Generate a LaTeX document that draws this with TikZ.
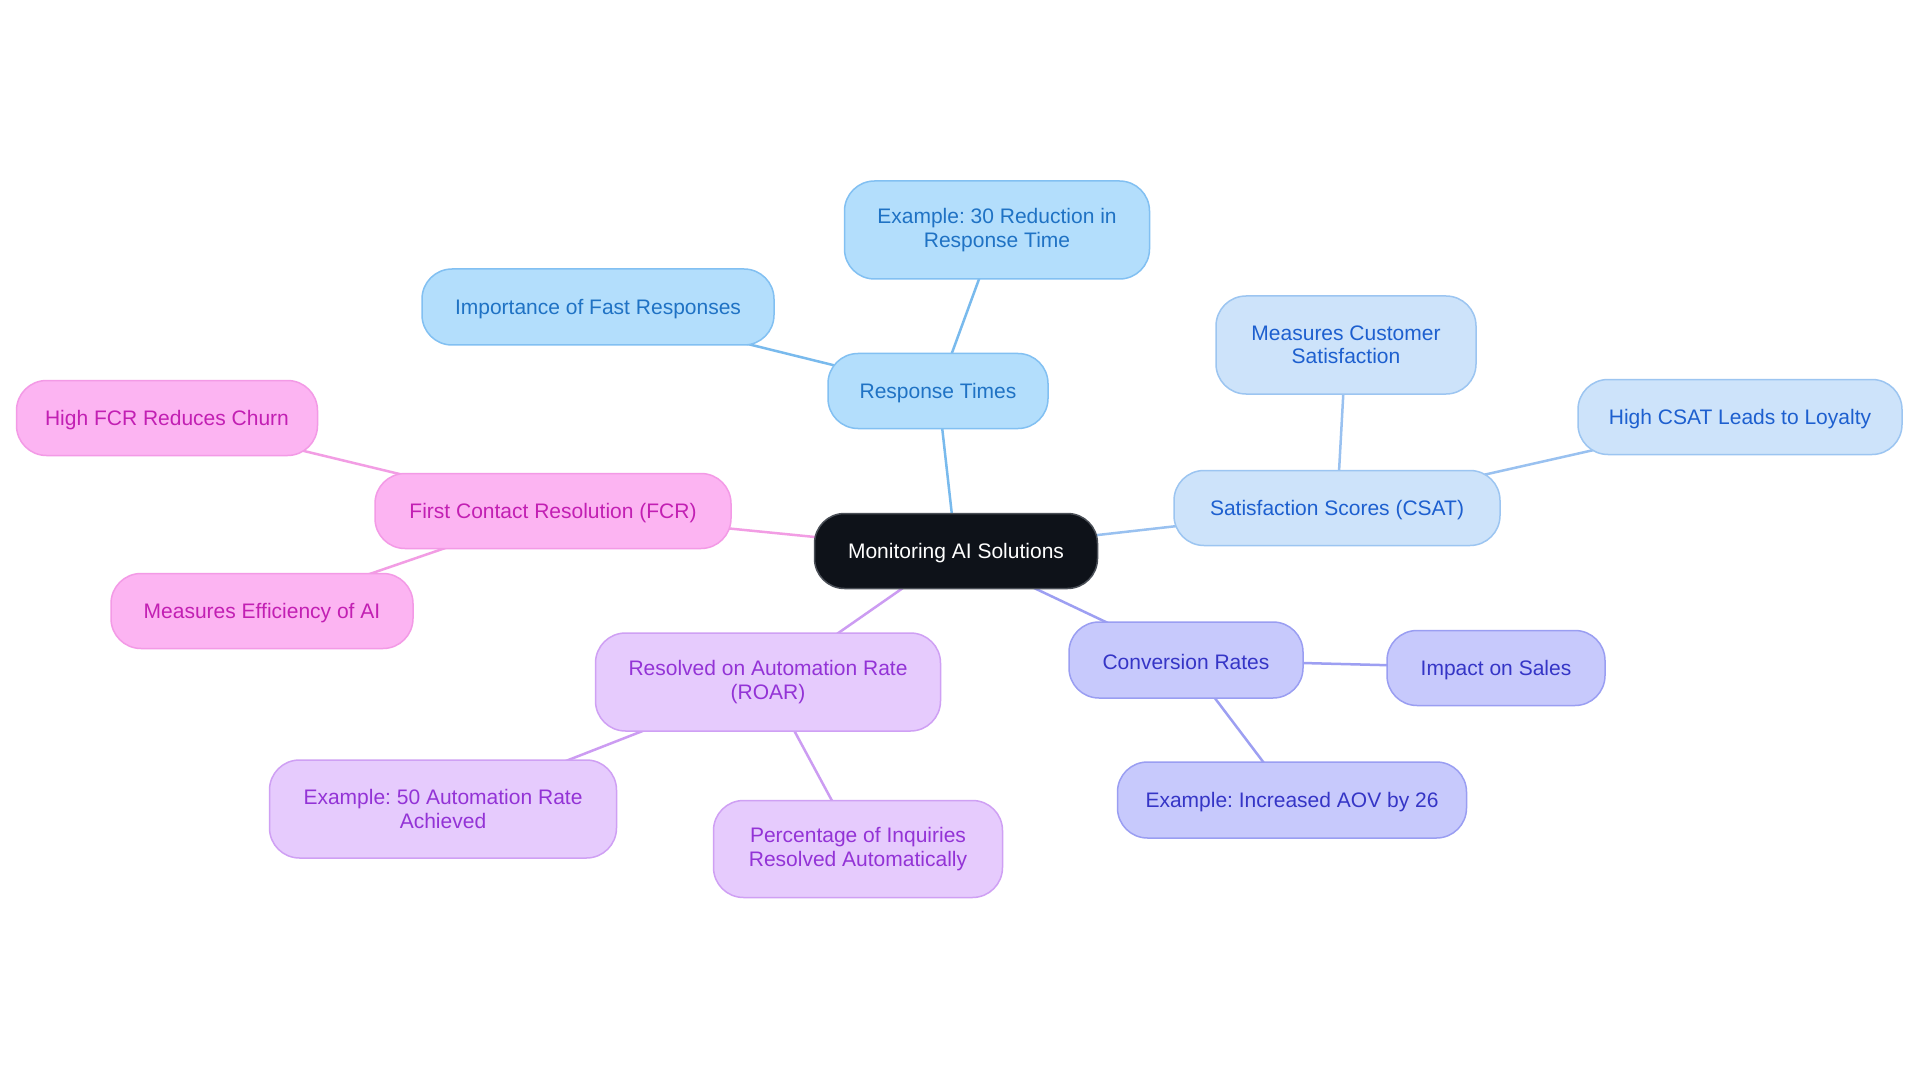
\documentclass[tikz,border=0pt]{standalone}
\usepackage{fontspec}
\setmainfont{Liberation Sans}
\usetikzlibrary{backgrounds}
\frenchspacing
\definecolor{rootfill}{HTML}{0E1219}
\definecolor{rootline}{HTML}{4A4F57}
\definecolor{rtfill}{HTML}{B3DEFC}
\definecolor{rtline}{HTML}{82C0F2}
\definecolor{rttext}{HTML}{1F72C4}
\definecolor{rtedge}{HTML}{79BAED}
\definecolor{csfill}{HTML}{CDE3FA}
\definecolor{csline}{HTML}{9CC5F1}
\definecolor{cstext}{HTML}{1D5FCF}
\definecolor{csedge}{HTML}{99C1F0}
\definecolor{cvfill}{HTML}{C7C9FC}
\definecolor{cvline}{HTML}{9A9EF2}
\definecolor{cvtext}{HTML}{3535C6}
\definecolor{cvedge}{HTML}{9D9FF2}
\definecolor{rofill}{HTML}{E6CBFD}
\definecolor{roline}{HTML}{CFA0F4}
\definecolor{rotext}{HTML}{9333D6}
\definecolor{roedge}{HTML}{CC9CF2}
\definecolor{fcfill}{HTML}{FCB4F2}
\definecolor{fcline}{HTML}{F39AE6}
\definecolor{fctext}{HTML}{C21FB3}
\definecolor{fcedge}{HTML}{F29DE4}
\tikzset{
  mm/.style={rounded corners=30pt, line width=1.5pt, inner sep=0pt, align=center,
    font=\fontsize{21}{23.5}\selectfont\frenchspacing,
    execute at begin node={\rule{0pt}{20pt}}},
  rootbox/.style={mm, fill=rootfill, draw=rootline, text=white},
  rtbox/.style={mm, fill=rtfill, draw=rtline, text=rttext},
  csbox/.style={mm, fill=csfill, draw=csline, text=cstext},
  cvbox/.style={mm, fill=cvfill, draw=cvline, text=cvtext},
  robox/.style={mm, fill=rofill, draw=roline, text=rotext},
  fcbox/.style={mm, fill=fcfill, draw=fcline, text=fctext},
  edge/.style={line width=2.5pt},
}
\begin{document}
\begin{tikzpicture}[x=1pt,y=-1pt]
\useasboundingbox (0,0) rectangle (1920,1083);

\node[rootbox, minimum width=283pt, minimum height=75pt] (root) at (956,551) {Monitoring AI Solutions};

\node[rtbox, minimum width=220pt, minimum height=75pt] (rt) at (938,391) {Response Times};
\node[rtbox, minimum width=305pt, minimum height=98pt] (rt1) at (997,230) {Example: 30 Reduction in\\Response Time};
\node[rtbox, minimum width=352pt, minimum height=76pt] (rt2) at (598,307) {Importance of Fast Responses};

\node[csbox, minimum width=326pt, minimum height=75pt] (cs) at (1337,508) {Satisfaction Scores (CSAT)};
\node[csbox, minimum width=260pt, minimum height=98pt] (cs1) at (1346,345) {Measures Customer\\Satisfaction};
\node[csbox, minimum width=324pt, minimum height=75pt] (cs2) at (1740,417) {High CSAT Leads to Loyalty};

\node[cvbox, minimum width=234pt, minimum height=76pt] (cv) at (1186,660) {Conversion Rates};
\node[cvbox, minimum width=218pt, minimum height=75pt] (cv1) at (1496,668) {Impact on Sales};
\node[cvbox, minimum width=349pt, minimum height=76pt] (cv2) at (1292,800) {Example: Increased AOV by 26};

\node[robox, minimum width=345pt, minimum height=98pt] (ro) at (768,682) {Resolved on Automation Rate\\(ROAR)};
\node[robox, minimum width=347pt, minimum height=98pt] (ro1) at (443,809) {Example: 50 Automation Rate\\Achieved};
\node[robox, minimum width=289pt, minimum height=97pt] (ro2) at (858,849) {Percentage of Inquiries\\Resolved Automatically};

\node[fcbox, minimum width=356pt, minimum height=75pt] (fc) at (553,511) {First Contact Resolution (FCR)};
\node[fcbox, minimum width=301pt, minimum height=75pt] (fc1) at (167,418) {High FCR Reduces Churn};
\node[fcbox, minimum width=302pt, minimum height=75pt] (fc2) at (262,611) {Measures Efficiency of AI};

\begin{scope}[on background layer]
\fill[white] (0,0) rectangle (1920,1083);
\draw[edge, rtedge] (root.center) -- (rt.center);
\draw[edge, rtedge] (rt.center) -- (rt1.center);
\draw[edge, rtedge] (rt.center) -- (rt2.center);
\draw[edge, csedge] (root.center) -- (cs.center);
\draw[edge, csedge] (cs.center) -- (cs1.center);
\draw[edge, csedge] (cs.center) -- (cs2.center);
\draw[edge, cvedge] (root.center) -- (cv.center);
\draw[edge, cvedge] (cv.center) -- (cv1.center);
\draw[edge, cvedge] (cv.center) -- (cv2.center);
\draw[edge, roedge] (root.center) -- (ro.center);
\draw[edge, roedge] (ro.center) -- (ro1.center);
\draw[edge, roedge] (ro.center) -- (ro2.center);
\draw[edge, fcedge] (root.center) -- (fc.center);
\draw[edge, fcedge] (fc.center) -- (fc1.center);
\draw[edge, fcedge] (fc.center) -- (fc2.center);
\end{scope}
\end{tikzpicture}
\end{document}
